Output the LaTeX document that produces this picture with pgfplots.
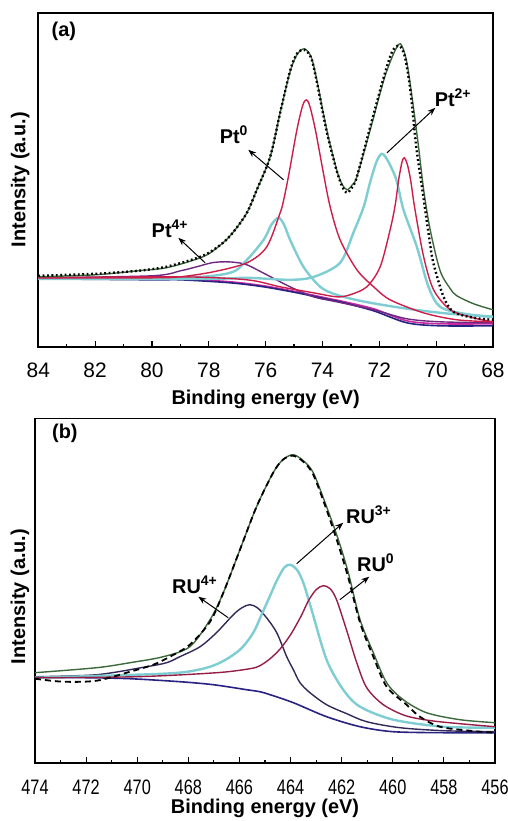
\documentclass[border=0pt]{standalone}
\usepackage{pgfplots}
\pgfplotsset{compat=1.18}
\usepackage{fontspec}
\setmainfont{Liberation Sans}
\newfontfamily\narrowsans[FakeStretch=0.78]{Liberation Sans}
\usetikzlibrary{arrows.meta}
\definecolor{envgreen}{RGB}{60,105,60}
\definecolor{cred}{RGB}{205,30,75}
\definecolor{dred}{RGB}{150,30,70}
\definecolor{ccyan}{RGB}{125,205,210}
\definecolor{cpurple}{RGB}{110,40,130}
\definecolor{cnavy}{RGB}{40,35,130}
\definecolor{cmag}{RGB}{200,40,160}
\definecolor{dnavy}{RGB}{50,40,90}
\tikzset{
  ann/.style={font=\bfseries\fontsize{10}{12}\selectfont},
  arr/.style={-{Stealth[length=4bp,width=3bp]}, line width=0.5bp},
}
\pgfplotsset{
  xpsstyle/.style={
    scale only axis, axis line style={line width=0.8bp},
    ytick=\empty, xtick pos=bottom, tick align=inside,
    major tick length=3bp, minor tick length=1.6bp,
    every tick/.style={black, line width=0.6bp},
    minor x tick num=1,
    /pgf/number format/assume math mode=true,
    label style={font=\bfseries\fontsize{10}{12}\selectfont, inner sep=0pt},
    xlabel={Binding energy (eV)}, ylabel={Intensity (a.u.)},
    every axis plot/.append style={line width=0.7bp, smooth, tension=0.5},
  },
}
\begin{document}
\begin{tikzpicture}
\path[use as bounding box] (0,0) rectangle (254bp,-410.5bp);
% ---------------- panel (a)
\begin{axis}[xpsstyle, at={(19.15bp,-173.4bp)}, anchor=south west,
  width=227.35bp, height=167bp, xmin=68, xmax=84, x dir=reverse,
  ymin=0, ymax=334, xtick={68,70,...,84},
  xticklabel style={font=\fontsize{10.5}{12}\selectfont, inner sep=0pt, anchor=center, yshift=-11.5bp},
  xlabel style={at={(axis description cs:0.5,0)}, anchor=base, yshift=-29bp},
  ylabel style={at={(axis description cs:0,0.5)}, anchor=center, yshift=9bp}]
% baselines
\addplot[cmag, line width=0.8bp] coordinates {(84,69)(80,68)(79,68)(77.25,65)(76.07,61)(74.9,55)(73.73,48)(73.38,46)(72.2,38)(71.03,26)(69.86,23)(68,23)};
\addplot[cnavy, line width=0.8bp] coordinates {(84,68)(80,67)(79,67)(77.25,64)(76.07,60)(74.9,54)(73.73,47)(73.38,45)(72.2,36)(71.03,24)(69.86,21)(68,21)};
% Pt4+
\addplot[cpurple] coordinates {(84,69)(80,71)(79,76)(78.43,80)(77.9,84)(77.49,85)(77.1,84.5)(76.66,82)(75.96,72)(75.14,60)(74.32,50)(73.5,45)(72.2,37)(71.03,28)(69.86,25)(68,24)};
% Pt2+ components (cyan)
\addplot[ccyan, line width=1.2bp] coordinates {(84,68)(79,69)(77.25,74)(76.66,87)(76.07,107)(75.8,122)(75.55,129)(75.35,122)(75.14,107)(74.67,80)(74.08,60)(73.5,52)(72.5,45)(71,38)(69.5,33)(68,30)};
\addplot[ccyan, line width=1.2bp] coordinates {(84,68)(78,68)(76.66,69)(75.14,67)(74.3,70)(73.38,84)(72.9,115)(72.55,140)(72.32,165)(72.1,185)(71.91,193)(71.7,186)(71.4,167)(71.15,137)(70.68,100)(70.27,60)(69.86,40)(69,33)(68,30)};
% Pt0 components (red)
\addplot[cred] coordinates {(84,69)(80,69)(79,70)(77.84,75)(76.66,84)(75.96,100)(75.49,134)(75.38,145)(75.2,170)(74.9,217)(74.7,241)(74.57,247)(74.45,241)(74.25,217)(73.97,174)(73.73,140)(73.38,107)(72.79,77)(72.2,60)(71.62,47)(70.45,34)(69.27,27)(68,25)};
\addplot[cred] coordinates {(84,69)(79,70)(76.66,67)(75.49,60)(74.32,54)(73.5,50)(73.03,52)(72.44,60)(71.97,80)(71.62,117)(71.44,142)(71.32,167)(71.2,185)(71.12,189)(71.02,183)(70.9,167)(70.75,138)(70.44,90)(70.09,57)(69.5,37)(68.7,29)(68,25)};
% envelope
\addplot[envgreen] coordinates {(84,70)(82,72)(80.5,76)(79.5,79)(78.5,87)(78,93)(77.5,104)(77.13,115)(76.66,134)(76.31,157)(75.84,190)(75.49,234)(75.14,275)(74.9,292)(74.64,298)(74.4,290)(74.2,267)(73.85,217)(73.5,177)(73.3,162)(73.13,157)(72.95,162)(72.79,170)(72.32,217)(71.84,267)(71.5,293)(71.26,303)(71.05,287)(70.85,250)(70.62,200)(70.44,157)(70.21,117)(69.86,76)(69.5,58)(69.27,51)(68.68,43)(68,37)};
% measured data
\addplot[black, line width=1.2bp, dash pattern=on 0.9bp off 1.3bp] coordinates {(84,71)(82,73)(80.5,76)(79.5,80)(78.5,88)(78,94)(77.5,104)(77.13,115)(76.66,134)(76.31,157)(75.84,190)(75.49,234)(75.14,276)(74.9,293)(74.64,297)(74.4,289)(74.2,265)(73.85,215)(73.5,176)(73.3,160)(73.13,154)(72.95,160)(72.79,170)(72.32,220)(71.84,270)(71.55,295)(71.3,301)(71.1,290)(70.9,255)(70.7,200)(70.45,150)(70.25,110)(70.1,84)(69.74,50)(69.39,35)(68.68,29)(68,27)};
\node[ann] at (axis cs:83.1,315) {(a)};
\node[ann] at (axis cs:77.11,212) {Pt\textsuperscript{0}};
\draw[arr] (axis cs:75.37,167) -- (axis cs:76.61,197);
\node[ann] at (axis cs:79.36,118) {Pt\textsuperscript{4+}};
\draw[arr] (axis cs:78.13,84) -- (axis cs:79.07,109);
\node[ann] at (axis cs:69.4,249) {Pt\textsuperscript{2+}};
\draw[arr] (axis cs:71.73,194) -- (axis cs:70.03,239);
\end{axis}
% ---------------- panel (b)
\begin{axis}[xpsstyle, at={(17.5bp,-381.35bp)}, anchor=south west,
  width=230bp, height=172.2bp, xmin=456, xmax=474, x dir=reverse,
  ymin=0, ymax=344.4, xtick={456,458,...,474},
  xticklabel style={font=\narrowsans\fontsize{10.5}{12}\selectfont, inner sep=0pt, anchor=center, yshift=-12.25bp},
  xlabel style={at={(axis description cs:0.5,0)}, anchor=base, yshift=-25.5bp},
  ylabel style={at={(axis description cs:0,0.5)}, anchor=center, yshift=7.5bp, xshift=-3bp}]
% baseline
\addplot[cnavy, line width=0.8bp] coordinates {(474,85)(472,85)(470.28,84)(468.33,81)(467.02,78)(465.72,73)(465.2,71)(464.8,68)(463.89,60)(462.59,46)(461.28,36)(459.98,31)(458,30)(456,30)};
% RU4+
\addplot[dnavy] coordinates {(474,86)(471.59,88)(469.63,96)(468.85,100)(468.33,106)(467.54,116)(466.9,130)(466.24,148)(465.9,155)(465.6,158)(465.3,155)(464.94,145)(464.54,130)(464.15,106)(463.89,93)(463.63,80)(463.24,70)(462.59,58)(461.8,49)(461.02,41)(459.72,35)(458,32)(456,31)};
% RU3+
\addplot[ccyan, line width=1.2bp] coordinates {(474,85)(468.98,89)(467.6,93)(466.76,100)(465.98,113)(465.46,130)(465.1,150)(464.8,167)(464.54,182)(464.25,195)(464.02,198)(463.75,193)(463.5,180)(463.2,155)(462.59,103)(461.94,73)(461.28,56)(459.98,43)(458.02,36)(456,35)};
% RU0
\addplot[dred] coordinates {(474,85)(470,86)(466.89,90)(465.59,94)(465.2,97)(464.8,104)(464.4,114)(464.0,128)(463.6,146)(463.3,162)(463,173)(462.72,177)(462.45,174)(462.2,163)(461.8,132)(461.41,100)(461.02,75)(460.37,58)(459.5,47)(458.5,42)(457.37,39)(456,36)};
% envelope
\addplot[envgreen] coordinates {(474,90)(471.59,95)(470.28,100)(468.98,106)(467.94,116)(467.15,143)(466.63,170)(465.98,213)(465.33,256)(464.68,290)(464.3,303)(463.9,308)(463.5,302)(463.11,290)(462.59,256)(462.13,223)(461.74,190)(461.28,143)(460.76,110)(460.24,80)(459.59,63)(458.68,50)(457.37,43)(456,40)};
% measured data
\addplot[black, line width=0.9bp, dash pattern=on 3bp off 2bp] coordinates {(474,84)(472.9,81)(471.59,82)(470.28,91)(469.37,98)(468.72,106)(467.94,118)(467.15,141)(466.63,170)(465.98,213)(465.33,256)(464.68,290)(464.3,303)(463.9,307)(463.5,301)(463.11,288)(462.59,253)(462.13,218)(461.74,185)(461.28,140)(460.76,106)(460.24,76)(459.46,58)(458.94,46)(458.16,36)(457,32)(456,30)};
\node[ann] at (axis cs:472.83,329) {(b)};
\node[ann] at (axis cs:467.74,178) {RU\textsuperscript{4+}};
\draw[arr] (axis cs:466.44,145) -- (axis cs:467.61,166);
\node[ann] at (axis cs:460.93,248) {RU\textsuperscript{3+}};
\draw[arr] (axis cs:463.76,199) -- (axis cs:461.94,240);
\node[ann] at (axis cs:460.66,200) {RU\textsuperscript{0}};
\draw[arr] (axis cs:462.07,163) -- (axis cs:460.92,186);
\end{axis}
\end{tikzpicture}
\end{document}
